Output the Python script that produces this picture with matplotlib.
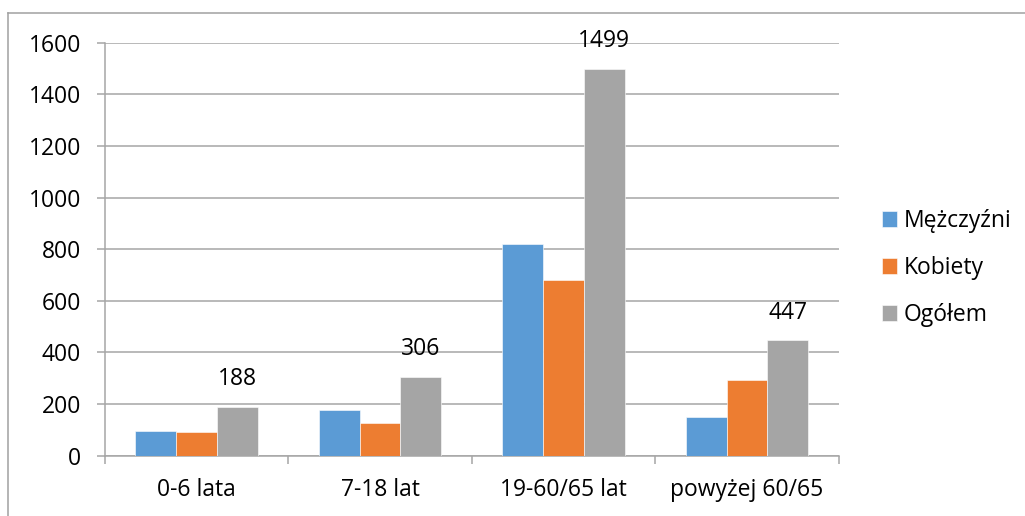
import matplotlib
matplotlib.use('Agg')
import matplotlib.pyplot as plt
from matplotlib.lines import Line2D
import numpy as np

# data
categories = ['0-6 lata', '7-18 lat', '19-60/65 lat', 'powyżej 60/65']
series_names = ['Mężczyźni', 'Kobiety', 'Ogółem']
men = [97, 178, 820, 151]
women = [90, 127, 682, 295]
total = [188, 306, 1499, 447]
yticks = [0, 200, 400, 600, 800, 1000, 1200, 1400, 1600]

colors = ['#5B9BD5', '#ED7D31', '#A5A5A5']
grid_col = '#A6A6A6'
fs = 16.5

plt.rcParams['font.family'] = ['Open Sans', 'DejaVu Sans']

fig = plt.figure(figsize=(10.25, 5.16), dpi=100)
ax = fig.add_axes([104.7/1025, 1-455.7/516, (838.7-104.7)/1025, (455.7-42.7)/516])

x = np.arange(len(categories))
w = 0.222
for i, (vals, name) in enumerate(zip([men, women, total], series_names)):
    ax.bar(x + (i-1)*w, vals, w, color=colors[i], label=name,
           edgecolor='white', linewidth=0.4, zorder=3)

# data labels only on the total series
for xi, v in zip(x, total):
    ax.annotate(str(v), (xi + w, v), xytext=(0, 20), textcoords='offset points',
                ha='center', va='center', fontsize=fs, color='black')

ax.set_xlim(-0.5, len(categories)-0.5)
ax.set_ylim(0, 1600)
ax.set_yticks(yticks)
ax.set_yticklabels([str(t) for t in yticks], fontsize=fs)
ax.yaxis.grid(True, color=grid_col, linewidth=1.1, zorder=0)
ax.set_axisbelow(True)

ax.set_xticks(x)
ax.set_xticklabels(categories, fontsize=fs)
ax.set_xticks(np.arange(len(categories)+1)-0.5, minor=True)
ax.tick_params(axis='x', which='major', length=0, pad=16)
ax.tick_params(axis='x', which='minor', length=6, width=1.1, color=grid_col, direction='out')
ax.tick_params(axis='y', length=6, width=1.1, color=grid_col, direction='out', pad=11)

for s in ['top', 'right']:
    ax.spines[s].set_visible(False)
for s in ['left', 'bottom']:
    ax.spines[s].set_color(grid_col)
    ax.spines[s].set_linewidth(1.1)

leg = ax.legend(loc='center left', bbox_to_anchor=(881.7/1025, 1-268/516),
                bbox_transform=fig.transFigure, frameon=False, fontsize=fs,
                handlelength=0.65, handleheight=0.65, handletextpad=0.3,
                labelspacing=1.0, borderpad=0, borderaxespad=0)

# outer chart border (cropped on right and bottom)
fig.add_artist(Line2D([8/1025, 8/1025], [0, 1-13/516], transform=fig.transFigure,
                      color='#A0A0A0', linewidth=1.1))
fig.add_artist(Line2D([8/1025, 1], [1-13/516, 1-13/516], transform=fig.transFigure,
                      color='#A0A0A0', linewidth=1.1))

fig.savefig('out.png', dpi=100)
